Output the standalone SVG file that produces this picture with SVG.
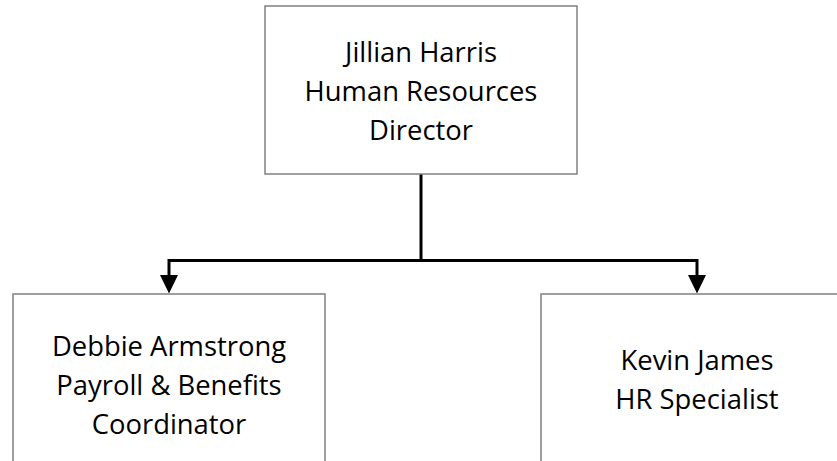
<svg xmlns="http://www.w3.org/2000/svg" width="837" height="461" viewBox="0 0 837 461">
<defs>
<style>
.box{fill:#ffffff;stroke:#808080;stroke-width:1.5}
.lbl{font-family:"Open Sans","Noto Sans","Liberation Sans",sans-serif;font-size:27.4px;fill:#000;text-anchor:middle}
.conn{fill:none;stroke:#000;stroke-width:3}
.head{fill:#000}
</style>
</defs>
<rect width="837" height="461" fill="#fff"/>
<g id="connectors">
<path class="conn" d="M421,174 L421,260.5"/>
<path class="conn" d="M169,260.5 L697,260.5"/>
<path class="conn" d="M169,259 L169,276"/>
<path class="conn" d="M697,259 L697,276"/>
<path class="head" d="M160,275 L178,275 L169,293.5 Z"/>
<path class="head" d="M688,275 L706,275 L697,293.5 Z"/>
</g>
<g id="node-director">
<rect class="box" x="265" y="6" width="312" height="168"/>
<text class="lbl" x="421" y="61.5">Jillian Harris</text>
<text class="lbl" x="421" y="100.5">Human Resources</text>
<text class="lbl" x="421" y="139.5">Director</text>
</g>
<g id="node-payroll">
<rect class="box" x="13" y="294" width="312" height="180"/>
<text class="lbl" x="169" y="355.5">Debbie Armstrong</text>
<text class="lbl" x="169" y="394.5">Payroll &amp; Benefits</text>
<text class="lbl" x="169" y="433.5">Coordinator</text>
</g>
<g id="node-specialist">
<rect class="box" x="541" y="294" width="312" height="180"/>
<text class="lbl" x="697" y="370">Kevin James</text>
<text class="lbl" x="697" y="409">HR Specialist</text>
</g>
</svg>
